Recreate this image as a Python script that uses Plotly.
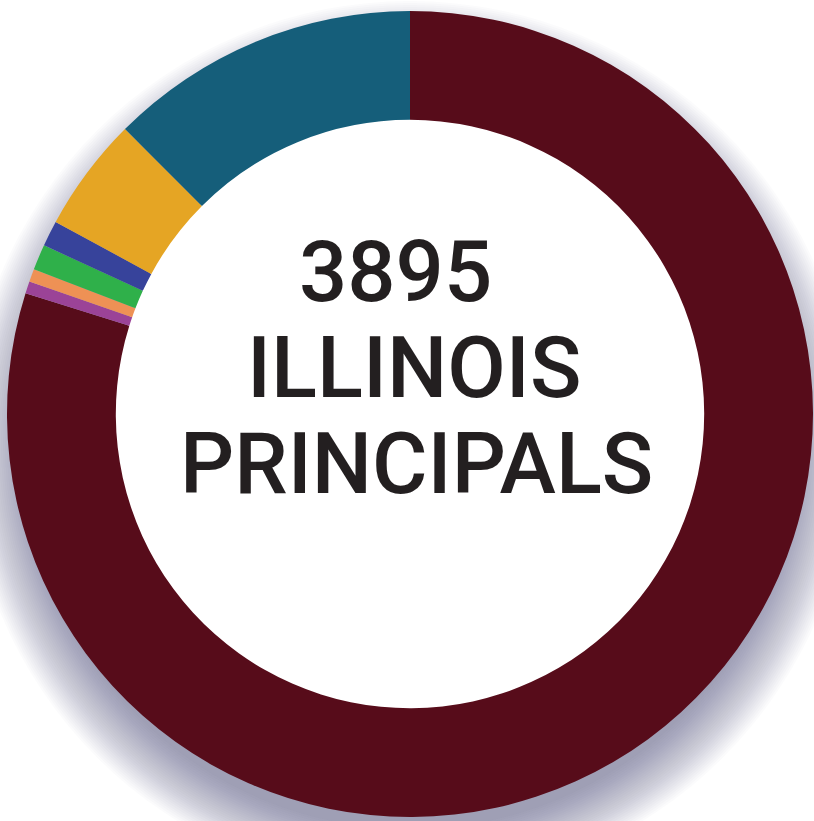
import plotly.graph_objects as go

labels = ["White", "Pacific Islander", "American Indian", "Two or More Races", "Asian", "Hispanic", "Black"]
values = [3110, 19, 20, 40, 40, 179, 487]
colors = ["#570c1a", "#9b4397", "#ee9155", "#2fb04a", "#37439b", "#e5a524", "#155e7a"]
center_lines = ["3895", "ILLINOIS", "PRINCIPALS"]

W, H = 814, 821
CX, CY, R, HOLE = 410, 414, 403, 0.73

def px(x):
    return x / W

def py(y):
    return 1 - y / H

shapes = []
N = 30
dy = 30
for k in range(N):
    r = R + 40 - k * 2.0
    shapes.append(dict(type="circle", xref="paper", yref="paper", layer="below",
                       x0=px(CX - r), x1=px(CX + r), y0=py(CY + dy + r), y1=py(CY + dy - r),
                       fillcolor="rgb(90,96,135)", opacity=0.022, line=dict(width=0)))
ri = R * HOLE + 2
shapes.append(dict(type="circle", xref="paper", yref="paper", layer="below",
                   x0=px(CX - ri), x1=px(CX + ri), y0=py(CY + ri), y1=py(CY - ri),
                   fillcolor="white", line=dict(width=0)))

fig = go.Figure(go.Pie(
    labels=labels, values=values, hole=HOLE, sort=False, direction="clockwise",
    rotation=0, marker=dict(colors=colors, line=dict(width=0)),
    textinfo="none", showlegend=False,
    domain=dict(x=[px(CX - R), px(CX + R)], y=[py(CY + R), py(CY - R)]),
))

line_x = [395, 414, 416]
line_y = [272, 368, 464]
annotations = []
for t, x, y in zip(center_lines, line_x, line_y):
    annotations.append(dict(text=t, x=px(x), y=py(y), xref="paper", yref="paper",
                            xanchor="center", yanchor="middle", showarrow=False,
                            font=dict(family="Roboto, Liberation Sans, sans-serif", size=85,
                                      weight=500, color="#231f20")))

fig.update_layout(width=W, height=H, margin=dict(l=0, r=0, t=0, b=0),
                  paper_bgcolor="white", plot_bgcolor="white",
                  shapes=shapes, annotations=annotations)
fig.write_html("out.html", config={"displayModeBar": False},
               post_script="document.body.style.margin='0';document.body.style.overflow='hidden';")
